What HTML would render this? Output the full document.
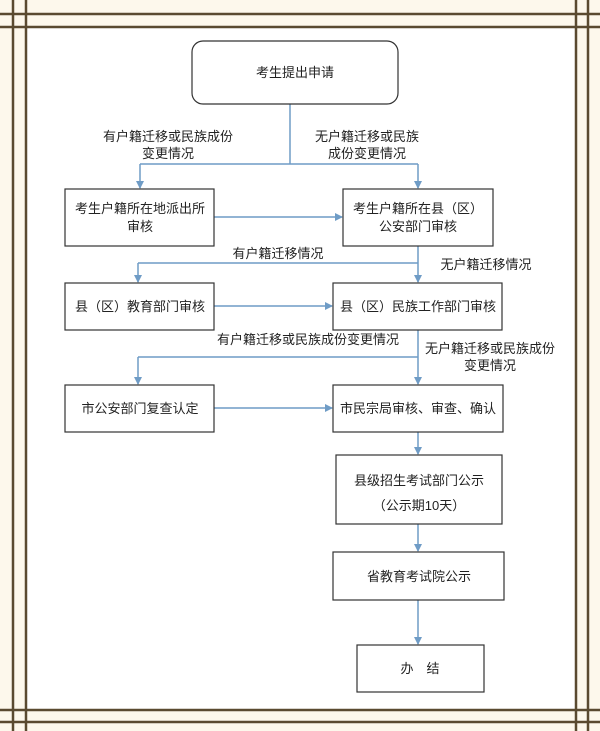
<!DOCTYPE html>
<html><head><meta charset="utf-8"><style>
html,body{margin:0;padding:0;width:600px;height:731px;overflow:hidden;background:#fdf8ec}
svg{display:block}
text{font-family:"Liberation Sans","Noto Sans CJK SC",sans-serif;font-size:13px;fill:#222}
</style></head><body>
<svg width="600" height="731" viewBox="0 0 600 731">
<defs><marker id="a" markerWidth="8" markerHeight="8" refX="7" refY="4" orient="auto" markerUnits="userSpaceOnUse"><path d="M0,0 L8,4 L0,8 z" fill="#6f9cc6"/></marker></defs>
<rect x="27" y="28" width="549" height="682" fill="#fff"/>
<g stroke="#5a4a30" stroke-width="2.5">
<line x1="13" y1="0" x2="13" y2="731"/><line x1="26" y1="0" x2="26" y2="731"/>
<line x1="576" y1="0" x2="576" y2="731"/><line x1="588" y1="0" x2="588" y2="731"/>
<line x1="0" y1="14" x2="600" y2="14"/><line x1="0" y1="27" x2="600" y2="27"/>
<line x1="0" y1="710" x2="600" y2="710"/><line x1="0" y1="722" x2="600" y2="722"/>
</g>
<g stroke="#6f9cc6" stroke-width="1.5" fill="none">
<line x1="290" y1="104" x2="290" y2="164"/><line x1="140" y1="164" x2="418" y2="164"/>
<line x1="140" y1="164" x2="140" y2="188" marker-end="url(#a)"/><line x1="418" y1="164" x2="418" y2="188" marker-end="url(#a)"/>
<line x1="214" y1="217" x2="342" y2="217" marker-end="url(#a)"/>
<line x1="418" y1="246" x2="418" y2="282" marker-end="url(#a)"/><line x1="138" y1="263" x2="418" y2="263"/>
<line x1="138" y1="263" x2="138" y2="282" marker-end="url(#a)"/>
<line x1="214" y1="306" x2="332" y2="306" marker-end="url(#a)"/>
<line x1="418" y1="330" x2="418" y2="384" marker-end="url(#a)"/><line x1="138" y1="357" x2="418" y2="357"/>
<line x1="138" y1="357" x2="138" y2="384" marker-end="url(#a)"/>
<line x1="214" y1="408" x2="332" y2="408" marker-end="url(#a)"/>
<line x1="418" y1="432" x2="418" y2="454" marker-end="url(#a)"/>
<line x1="418" y1="524" x2="418" y2="551" marker-end="url(#a)"/>
<line x1="418" y1="600" x2="418" y2="644" marker-end="url(#a)"/>
</g>
<g stroke="#333" stroke-width="1.2" fill="#fff">
<rect x="192" y="41" width="206" height="63" rx="11"/>
<rect x="65" y="189" width="149" height="57"/><rect x="343" y="189" width="150" height="57"/>
<rect x="65" y="283" width="149" height="47"/><rect x="333" y="283" width="169" height="47"/>
<rect x="65" y="385" width="149" height="47"/><rect x="333" y="385" width="170" height="47"/>
<rect x="336" y="455" width="166" height="69"/><rect x="333" y="552" width="171" height="48"/>
<rect x="357" y="645" width="127" height="47"/>
</g>
<g text-anchor="middle">
<text x="295" y="77">考生提出申请</text>
<text x="168" y="141">有户籍迁移或民族成份</text><text x="168" y="158">变更情况</text>
<text x="367" y="141">无户籍迁移或民族</text><text x="367" y="158">成份变更情况</text>
<text x="140" y="213">考生户籍所在地派出所</text><text x="140" y="231">审核</text>
<text x="418" y="213">考生户籍所在县（区）</text><text x="418" y="231">公安部门审核</text>
<text x="278" y="258">有户籍迁移情况</text><text x="486" y="269">无户籍迁移情况</text>
<text x="140" y="311">县（区）教育部门审核</text><text x="418" y="311">县（区）民族工作部门审核</text>
<text x="308" y="344">有户籍迁移或民族成份变更情况</text>
<text x="490" y="353">无户籍迁移或民族成份</text><text x="490" y="370">变更情况</text>
<text x="140" y="413">市公安部门复查认定</text><text x="418" y="413">市民宗局审核、审查、确认</text>
<text x="419" y="485">县级招生考试部门公示</text><text x="419" y="510">（公示期10天）</text>
<text x="419" y="581">省教育考试院公示</text>
<text x="420" y="673">办　结</text>
</g>
</svg>
</body></html>
